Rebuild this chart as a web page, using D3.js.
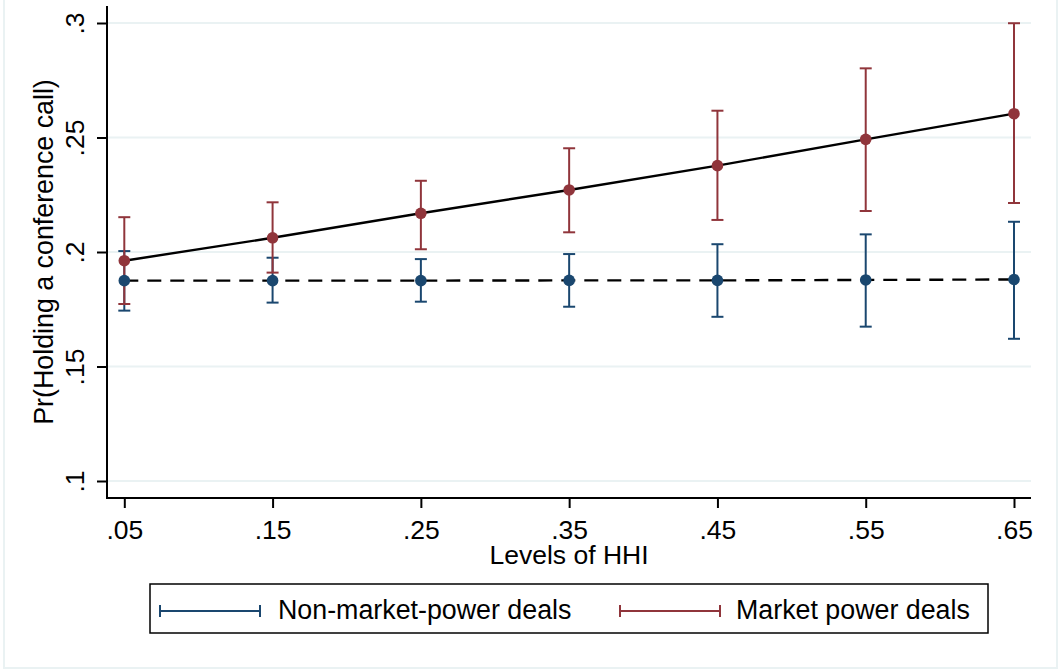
<!DOCTYPE html>
<html>
<head>
<meta charset="utf-8">
<script src="https://cdn.jsdelivr.net/npm/d3@7"></script>
<style>
  html, body { margin: 0; padding: 0; background: #ffffff; }
  svg { display: block; }
  text { font-family: "Liberation Sans", Arial, sans-serif; fill: #000; }
</style>
</head>
<body>
<svg id="chart" width="1061" height="671"></svg>
<script>
// HHI levels at which predicted probabilities were evaluated
const hhiLevels = [0.05, 0.15, 0.25, 0.35, 0.45, 0.55, 0.65];

// Non-market-power deals: prediction and 95% CI bounds
const nonMarketPred = [0.1875, 0.1875, 0.1875, 0.1876, 0.1876, 0.1878, 0.1880];
const nonMarketLow  = [0.1744, 0.1779, 0.1783, 0.1761, 0.1717, 0.1674, 0.1621];
const nonMarketHigh = [0.2004, 0.1975, 0.1969, 0.1991, 0.2034, 0.2077, 0.2132];

// Market power deals: prediction and 95% CI bounds
const marketPred = [0.1962, 0.2062, 0.2169, 0.2271, 0.2377, 0.2492, 0.2604];
const marketLow  = [0.1773, 0.1910, 0.2012, 0.2086, 0.2140, 0.2179, 0.2214];
const marketHigh = [0.2152, 0.2217, 0.2311, 0.2453, 0.2617, 0.2802, 0.2999];

// Axis ticks and labels
const yTicks = [0.1, 0.15, 0.2, 0.25, 0.3];
const xTicks = hhiLevels;
const seriesNames = ["Non-market-power deals", "Market power deals"];
const yTitle = "Pr(Holding a conference call)";
const xTitle = "Levels of HHI";

const navy = "#1a476f";
const maroon = "#90353b";
const gridColor = "#eaf2f3";

const svg = d3.select("#chart");

// Outer frame of the graph region
svg.append("rect")
  .attr("x", 4).attr("y", -10)
  .attr("width", 1053).attr("height", 678)
  .attr("fill", "none")
  .attr("stroke", gridColor)
  .attr("stroke-width", 2);

// Plot region
const plot = { left: 107, right: 1031, top: 6, bottom: 498 };

const x = d3.scaleLinear().domain([0.05, 0.65]).range([124.3, 1014]);
const y = d3.scaleLinear().domain([0.1, 0.3]).range([481, 23]);

const fmt = v => String(+v.toFixed(2)).replace(/^0/, "");

// Horizontal grid lines
svg.append("g")
  .selectAll("line")
  .data(yTicks)
  .join("line")
  .attr("x1", plot.left).attr("x2", plot.right)
  .attr("y1", d => y(d)).attr("y2", d => y(d))
  .attr("stroke", gridColor)
  .attr("stroke-width", 2);

// Y axis
const yAxis = svg.append("g")
  .attr("transform", `translate(${plot.left},0)`)
  .call(d3.axisLeft(y).tickValues(yTicks).tickSize(10).tickFormat(fmt));
yAxis.select(".domain").remove();
yAxis.selectAll(".tick line").attr("stroke", "#000").attr("stroke-width", 2);
yAxis.selectAll(".tick text")
  .attr("transform", "rotate(-90)")
  .attr("x", 0).attr("y", -23).attr("dy", null)
  .attr("text-anchor", "middle")
  .style("font-size", "26.5px")
  .style("font-family", "'Liberation Sans', Arial, sans-serif");
svg.append("line")
  .attr("x1", plot.left).attr("x2", plot.left)
  .attr("y1", plot.top).attr("y2", plot.bottom + 1)
  .attr("stroke", "#000").attr("stroke-width", 2);

// X axis
const xAxis = svg.append("g")
  .attr("transform", `translate(0,${plot.bottom})`)
  .call(d3.axisBottom(x).tickValues(xTicks).tickSize(10).tickFormat(fmt));
xAxis.select(".domain").remove();
xAxis.selectAll(".tick line").attr("stroke", "#000").attr("stroke-width", 2);
xAxis.selectAll(".tick text")
  .attr("y", 41).attr("dy", null)
  .style("font-size", "26.5px")
  .style("font-family", "'Liberation Sans', Arial, sans-serif");
svg.append("line")
  .attr("x1", plot.left - 1).attr("x2", plot.right)
  .attr("y1", plot.bottom).attr("y2", plot.bottom)
  .attr("stroke", "#000").attr("stroke-width", 2);

// Axis titles
svg.append("text")
  .attr("transform", `translate(53,${(plot.top + plot.bottom) / 2}) rotate(-90)`)
  .attr("text-anchor", "middle")
  .style("font-size", "26.8px")
  .text(yTitle);

svg.append("text")
  .attr("x", (plot.left + plot.right) / 2)
  .attr("y", 564)
  .attr("text-anchor", "middle")
  .style("font-size", "26.5px")
  .text(xTitle);

// Series data rows
const series = [
  { name: seriesNames[0], color: navy, dash: "14,9",
    rows: hhiLevels.map((h, i) => ({ h, p: nonMarketPred[i], lo: nonMarketLow[i], hi: nonMarketHigh[i] })) },
  { name: seriesNames[1], color: maroon, dash: null,
    rows: hhiLevels.map((h, i) => ({ h, p: marketPred[i], lo: marketLow[i], hi: marketHigh[i] })) }
];

const capHalf = 6;

// Confidence interval caps
series.forEach(s => {
  const g = svg.append("g").attr("stroke", s.color).attr("stroke-width", 2).attr("fill", "none");
  g.selectAll("line.v").data(s.rows).join("line").attr("class", "v")
    .attr("x1", d => x(d.h)).attr("x2", d => x(d.h))
    .attr("y1", d => y(d.lo)).attr("y2", d => y(d.hi));
  g.selectAll("line.hi").data(s.rows).join("line").attr("class", "hi")
    .attr("x1", d => x(d.h) - capHalf).attr("x2", d => x(d.h) + capHalf)
    .attr("y1", d => y(d.hi)).attr("y2", d => y(d.hi));
  g.selectAll("line.lo").data(s.rows).join("line").attr("class", "lo")
    .attr("x1", d => x(d.h) - capHalf).attr("x2", d => x(d.h) + capHalf)
    .attr("y1", d => y(d.lo)).attr("y2", d => y(d.lo));
});

// Connecting lines (solid for market power, dashed for non-market-power)
const line = d3.line().x(d => x(d.h)).y(d => y(d.p));
series.forEach(s => {
  svg.append("path")
    .datum(s.rows)
    .attr("d", line)
    .attr("fill", "none")
    .attr("stroke", "#000")
    .attr("stroke-width", 2.4)
    .attr("stroke-dasharray", s.dash);
});

// Point estimates
series.forEach(s => {
  svg.append("g").selectAll("circle").data(s.rows).join("circle")
    .attr("cx", d => x(d.h)).attr("cy", d => y(d.p))
    .attr("r", 5.8)
    .attr("fill", s.color);
});

// Legend
const legend = svg.append("g");
legend.append("rect")
  .attr("x", 150).attr("y", 584)
  .attr("width", 838).attr("height", 49)
  .attr("fill", "#fff")
  .attr("stroke", "#000")
  .attr("stroke-width", 1.5);

const legendItems = [
  { s: series[0], x0: 160, x1: 260, tx: 278 },
  { s: series[1], x0: 620, x1: 720, tx: 736 }
];
const keyY = 611;
legendItems.forEach(item => {
  const g = legend.append("g").attr("stroke", item.s.color).attr("stroke-width", 2);
  g.append("line").attr("x1", item.x0).attr("x2", item.x1).attr("y1", keyY).attr("y2", keyY);
  g.append("line").attr("x1", item.x0).attr("x2", item.x0).attr("y1", keyY - 6).attr("y2", keyY + 6);
  g.append("line").attr("x1", item.x1).attr("x2", item.x1).attr("y1", keyY - 6).attr("y2", keyY + 6);
  legend.append("text")
    .attr("x", item.tx).attr("y", 619)
    .style("font-size", "26.8px")
    .text(item.s.name);
});
</script>
</body>
</html>
